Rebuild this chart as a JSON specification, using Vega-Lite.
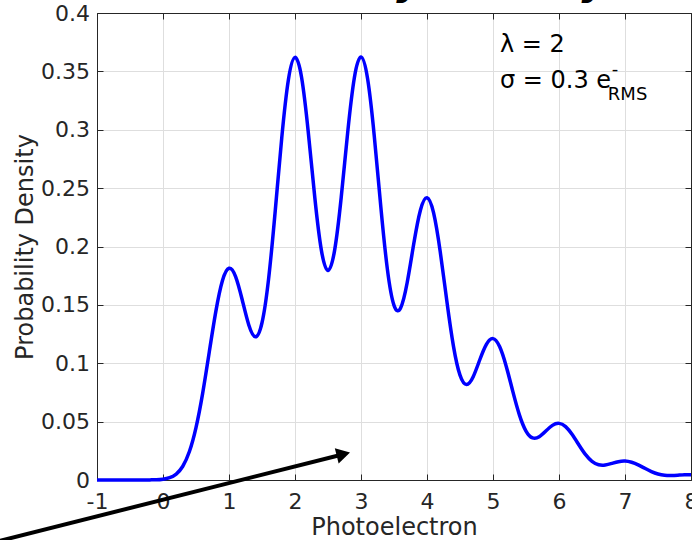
{
  "$schema": "https://vega.github.io/schema/vega-lite/v6.json",
  "width": 594,
  "height": 467,
  "autosize": "none",
  "padding": {"left": 97, "top": 13, "right": 1, "bottom": 60},
  "background": "white",
  "config": {
    "view": {"stroke": "#262626", "strokeWidth": 1},
    "font": "DejaVu Sans",
    "axis": {
      "domainColor": "#262626",
      "tickColor": "#262626",
      "labelColor": "#262626",
      "titleColor": "#262626",
      "labelFont": "DejaVu Sans",
      "titleFont": "DejaVu Sans",
      "labelFontSize": 22,
      "titleFontSize": 24,
      "titleFontWeight": "normal",
      "gridColor": "#dedede",
      "gridWidth": 1,
      "tickSize": -6,
      "tickWidth": 1,
      "domainWidth": 1
    }
  },
  "datasets": {
    "curve": [
      {"x": -1.0, "p": 0}, {"x": -0.9, "p": 0}, {"x": -0.8, "p": 0}, {"x": -0.7, "p": 0},
      {"x": -0.6, "p": 0}, {"x": -0.5, "p": 0}, {"x": -0.4, "p": 0}, {"x": -0.3, "p": 0.0000},
      {"x": -0.2, "p": 0.0001}, {"x": -0.1, "p": 0.0002}, {"x": 0.0, "p": 0.0007},
      {"x": 0.1, "p": 0.0020}, {"x": 0.2, "p": 0.0051}, {"x": 0.3, "p": 0.0118},
      {"x": 0.4, "p": 0.0244}, {"x": 0.5, "p": 0.0449}, {"x": 0.6, "p": 0.0740},
      {"x": 0.7, "p": 0.1092}, {"x": 0.8, "p": 0.1442}, {"x": 0.9, "p": 0.1707},
      {"x": 1.0, "p": 0.1814}, {"x": 1.1, "p": 0.1743}, {"x": 1.2, "p": 0.1544},
      {"x": 1.3, "p": 0.1328}, {"x": 1.4, "p": 0.1227}, {"x": 1.5, "p": 0.1347},
      {"x": 1.6, "p": 0.1723}, {"x": 1.7, "p": 0.2302}, {"x": 1.8, "p": 0.2935},
      {"x": 1.9, "p": 0.3429}, {"x": 2.0, "p": 0.3620}, {"x": 2.1, "p": 0.3447},
      {"x": 2.2, "p": 0.2985}, {"x": 2.3, "p": 0.2420}, {"x": 2.4, "p": 0.1967},
      {"x": 2.5, "p": 0.1795}, {"x": 2.6, "p": 0.1967}, {"x": 2.7, "p": 0.2420},
      {"x": 2.8, "p": 0.2986}, {"x": 2.9, "p": 0.3448}, {"x": 3.0, "p": 0.3623},
      {"x": 3.1, "p": 0.3436}, {"x": 3.2, "p": 0.2952}, {"x": 3.3, "p": 0.2341},
      {"x": 3.4, "p": 0.1804}, {"x": 3.5, "p": 0.1496}, {"x": 3.6, "p": 0.1474},
      {"x": 3.7, "p": 0.1692}, {"x": 3.8, "p": 0.2025}, {"x": 3.9, "p": 0.2311},
      {"x": 4.0, "p": 0.2418}, {"x": 4.1, "p": 0.2288}, {"x": 4.2, "p": 0.1957},
      {"x": 4.3, "p": 0.1535}, {"x": 4.4, "p": 0.1149}, {"x": 4.5, "p": 0.0898},
      {"x": 4.6, "p": 0.0818}, {"x": 4.7, "p": 0.0885}, {"x": 4.8, "p": 0.1030},
      {"x": 4.9, "p": 0.1162}, {"x": 5.0, "p": 0.1211}, {"x": 5.1, "p": 0.1143},
      {"x": 5.2, "p": 0.0975}, {"x": 5.3, "p": 0.0759}, {"x": 5.4, "p": 0.0558},
      {"x": 5.5, "p": 0.0419}, {"x": 5.6, "p": 0.0360}, {"x": 5.7, "p": 0.0370},
      {"x": 5.8, "p": 0.0419}, {"x": 5.9, "p": 0.0468}, {"x": 6.0, "p": 0.0485},
      {"x": 6.1, "p": 0.0457}, {"x": 6.2, "p": 0.0389}, {"x": 6.3, "p": 0.0302},
      {"x": 6.4, "p": 0.0219}, {"x": 6.5, "p": 0.0160}, {"x": 6.6, "p": 0.0131},
      {"x": 6.7, "p": 0.0129}, {"x": 6.8, "p": 0.0142}, {"x": 6.9, "p": 0.0157},
      {"x": 7.0, "p": 0.0162}, {"x": 7.1, "p": 0.0152}, {"x": 7.2, "p": 0.0130},
      {"x": 7.3, "p": 0.0100}, {"x": 7.4, "p": 0.0072}, {"x": 7.5, "p": 0.0051},
      {"x": 7.6, "p": 0.0040}, {"x": 7.7, "p": 0.0038}, {"x": 7.8, "p": 0.0041},
      {"x": 7.9, "p": 0.0045}, {"x": 8.0, "p": 0.0046}
    ],
    "notes": [
      {"x": 5.106, "p": 0.3666, "t": "λ = 2"},
      {"x": 5.106, "p": 0.3358, "t": "σ = 0.3 e"}
    ],
    "scripts": [
      {"x": 6.80, "p": 0.3469, "t": "-"},
      {"x": 6.74, "p": 0.3255, "t": "RMS"}
    ],
    "heading": [
      {"x": 3.47, "p": 0.4163, "t": "Probability Density"}
    ],
    "arrow": [
      {"x": -2.773, "p": -0.0564, "x2": 2.733, "p2": 0.0221}
    ]
  },
  "layer": [
    {
      "data": {"name": "curve"},
      "mark": {"type": "line", "color": "#0000ff", "strokeWidth": 3.5, "interpolate": "natural"},
      "encoding": {
        "x": {"field": "x", "type": "quantitative",
              "scale": {"domain": [-1, 8], "nice": false, "zero": false},
              "axis": {"orient": "bottom", "title": "Photoelectron", "values": [-1,0,1,2,3,4,5,6,7,8],
                       "labelExpr": "toString(datum.value)", "grid": true, "labelPadding": 17,
                       "titlePadding": 3, "labelFlush": false, "labelOverlap": false}},
        "y": {"field": "p", "type": "quantitative",
              "scale": {"domain": [0, 0.4], "nice": false, "zero": false},
              "axis": {"orient": "left", "title": "Probability Density",
                       "values": [0,0.05,0.1,0.15,0.2,0.25,0.3,0.35,0.4],
                       "labelExpr": "toString(datum.value)", "grid": true, "labelPadding": 13.5,
                       "titlePadding": 3, "labelFlush": false, "labelOverlap": false}}
      }
    },
    {
      "data": {"name": "notes"},
      "mark": {"type": "text", "align": "left", "baseline": "alphabetic", "fontSize": 24, "color": "#000000", "font": "DejaVu Sans"},
      "encoding": {
        "x": {"field": "x", "type": "quantitative", "scale": {"domain": [-1, 8], "nice": false, "zero": false},
              "axis": {"orient": "top", "labels": false, "title": null, "grid": false,
                       "values": [-1,0,1,2,3,4,5,6,7,8]}},
        "y": {"field": "p", "type": "quantitative", "scale": {"domain": [0, 0.4], "nice": false, "zero": false},
              "axis": {"orient": "right", "labels": false, "title": null, "grid": false,
                       "values": [0,0.05,0.1,0.15,0.2,0.25,0.3,0.35,0.4]}},
        "text": {"field": "t"}
      }
    },
    {
      "data": {"name": "scripts"},
      "mark": {"type": "text", "align": "left", "baseline": "alphabetic", "fontSize": 18, "color": "#000000", "font": "DejaVu Sans"},
      "encoding": {
        "x": {"field": "x", "type": "quantitative", "scale": {"domain": [-1, 8], "nice": false, "zero": false}, "axis": null},
        "y": {"field": "p", "type": "quantitative", "scale": {"domain": [0, 0.4], "nice": false, "zero": false}, "axis": null},
        "text": {"field": "t"}
      }
    },
    {
      "data": {"name": "heading"},
      "mark": {"type": "text", "align": "center", "baseline": "alphabetic", "fontSize": 40, "fontWeight": "bold", "fontStyle": "italic", "color": "#000000", "font": "DejaVu Sans"},
      "encoding": {
        "x": {"field": "x", "type": "quantitative", "scale": {"domain": [-1, 8], "nice": false, "zero": false}, "axis": null},
        "y": {"field": "p", "type": "quantitative", "scale": {"domain": [0, 0.4], "nice": false, "zero": false}, "axis": null},
        "text": {"field": "t"}
      }
    },
    {
      "data": {"name": "arrow"},
      "mark": {"type": "rule", "color": "#000000", "strokeWidth": 4},
      "encoding": {
        "x": {"field": "x", "type": "quantitative", "scale": {"domain": [-1, 8], "nice": false, "zero": false}, "axis": null},
        "y": {"field": "p", "type": "quantitative", "scale": {"domain": [0, 0.4], "nice": false, "zero": false}, "axis": null},
        "x2": {"field": "x2"},
        "y2": {"field": "p2"}
      }
    },
    {
      "data": {"name": "arrow"},
      "mark": {"type": "point", "shape": "triangle-right", "filled": true, "color": "#000000", "size": 250, "angle": 345.9, "opacity": 1},
      "encoding": {
        "x": {"field": "x2", "type": "quantitative", "scale": {"domain": [-1, 8], "nice": false, "zero": false}, "axis": null},
        "y": {"field": "p2", "type": "quantitative", "scale": {"domain": [0, 0.4], "nice": false, "zero": false}, "axis": null}
      }
    }
  ],
  "resolve": {"axis": {"x": "independent", "y": "independent"}}
}
